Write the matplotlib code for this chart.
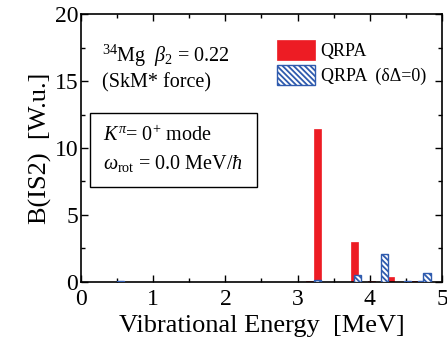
import matplotlib
matplotlib.use("Agg")
import matplotlib.pyplot as plt
from matplotlib.ticker import MultipleLocator

plt.rcParams["font.family"] = ["Liberation Serif", "DejaVu Serif"]
plt.rcParams["mathtext.fontset"] = "custom"
plt.rcParams["mathtext.rm"] = "Liberation Serif"
plt.rcParams["mathtext.it"] = "Liberation Serif:italic"
plt.rcParams["hatch.linewidth"] = 1.3

# QRPA (red)
qrpa_e = [3.17, 3.28, 3.79, 4.02, 4.29, 4.62, 4.75]
qrpa_b = [0.05, 11.4, 3.0, 0.08, 0.4, 0.05, 0.05]
# QRPA (dDelta=0) (blue hatched)
qrpa0_e = [0.55, 3.27, 3.83, 4.20, 4.52, 4.72, 4.79]
qrpa0_b = [0.05, 0.15, 0.55, 2.1, 0.05, 0.1, 0.65]

red = "#ED1C24"
blue = "#2F5BAE"
w = 0.1

fig = plt.figure(figsize=(4.47, 3.43), dpi=100)
ax = fig.add_axes([0.181, 0.178, 0.808, 0.781])

ax.bar(qrpa_e, qrpa_b, width=w, color=red, edgecolor=red, lw=0.5, label="QRPA", zorder=2)
ax.bar(qrpa0_e, qrpa0_b, width=w, color="white", edgecolor=blue, hatch="\\\\\\\\\\\\",
       lw=1.0, label="QRPA  (δΔ=0)", zorder=3)

ax.set_xlim(0, 5)
ax.set_ylim(0, 20)
ax.xaxis.set_major_locator(MultipleLocator(1))
ax.xaxis.set_minor_locator(MultipleLocator(0.5))
ax.yaxis.set_major_locator(MultipleLocator(5))
ax.yaxis.set_minor_locator(MultipleLocator(2.5))
ax.tick_params(which="both", direction="in", top=True, right=True, labelsize=17, width=1)
ax.tick_params(which="major", length=5)
ax.tick_params(which="minor", length=3)
ax.tick_params(axis="x", pad=5)
ax.tick_params(axis="y", pad=2)
for s in ax.spines.values():
    s.set_linewidth(1.2)

ax.set_xlabel("Vibrational Energy  [MeV]", fontsize=19, labelpad=4)
ax.set_ylabel("B(IS2)  [W.u.]", fontsize=19, labelpad=2)

ax.text(0.29, 16.9, r"$^{34}$Mg  $\beta_2$ = 0.22", fontsize=14.5, va="center")
ax.text(0.29, 14.85, "(SkM* force)", fontsize=14.5, va="center")
ax.text(0.31, 9.85, r"$K^{\pi}$= 0$^{+}$ mode" + "\n" + r"$\omega_{\rm rot}$ = 0.0 MeV/$\hbar$",
        fontsize=14.5, linespacing=1.45, va="center",
        bbox=dict(boxstyle="square,pad=0.65", fc="white", ec="black", lw=1))

ax.legend(loc="upper right", bbox_to_anchor=(0.975, 0.93), frameon=False, fontsize=13,
          handlelength=2.1, handleheight=1.3, handletextpad=0.3, labelspacing=0.3,
          borderaxespad=0)

fig.savefig("out.png", dpi=100)
